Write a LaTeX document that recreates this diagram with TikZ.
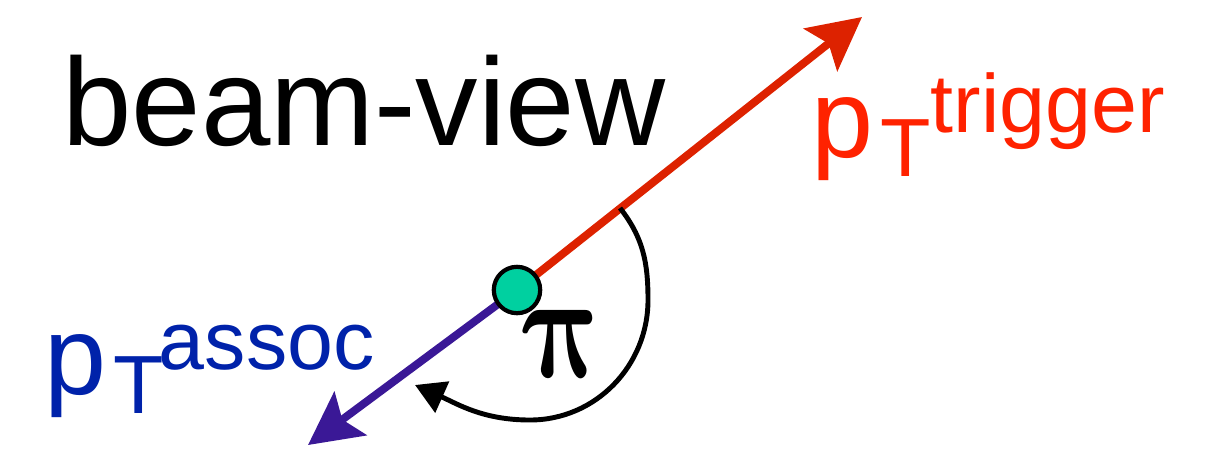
\documentclass[tikz,border=0pt]{standalone}
\usepackage{fontspec}
\setmainfont{Liberation Sans}
\usepackage{bm}
\usetikzlibrary{arrows.meta}
\definecolor{trigtext}{RGB}{255,34,0}
\definecolor{trigline}{RGB}{221,34,0}
\definecolor{assoctext}{RGB}{0,34,170}
\definecolor{assocline}{RGB}{58,24,150}
\definecolor{vertexfill}{RGB}{0,208,160}
\tikzset{
  lbl/.style={inner sep=0pt, anchor=base west},
  momarrow/.style={line width=4.5pt, -{Stealth[length=30pt,width=30.6pt,inset=5.7pt]}},
  anglearc/.style={line width=2.8pt, black, -{Triangle[length=17pt,width=19pt]}},
  vertex/.style={circle, draw=black, line width=2.4pt, fill=vertexfill, minimum size=26.4pt, inner sep=0pt}
}
\begin{document}
\begin{tikzpicture}[x=0.02cm,y=-0.02cm]
\useasboundingbox (0,0) rectangle (1219,451);
\coordinate (c0) at (517,290);
\coordinate (trigtip) at (862,17);
\coordinate (assoctip) at (308,445);
\draw[momarrow, trigline] (c0) -- (trigtip);
\draw[momarrow, assocline] (c0) -- (assoctip);
\node[vertex] (c) at (c0) {};
\coordinate (a1) at (620,208);
\coordinate (a2) at (648,300);
\coordinate (a3) at (530,420);
\coordinate (a4) at (415,385);
\draw[anglearc] (a1) to[out=-52,in=90] (a2) to[out=-90,in=0] (a3) to[out=180,in=-24] (a4);
\node[inner sep=0pt, xslant=-0.2, transform shape] (pi) at (563,344) {\scalebox{6.5}[8.6]{$\bm{\pi}$}};
\node[lbl] (title) at (62,145) {\fontsize{71}{74}\selectfont beam-view};
\node[lbl, text=trigtext] (trig) at (811,157) {\fontsize{63.5}{70}\selectfont p\hspace{4pt}\raisebox{-11.3pt}{\fontsize{47}{50}\selectfont T}\raisebox{14.2pt}{\fontsize{47}{50}\selectfont trigger}};
\node[lbl, text=assoctext] (assoc) at (44,394) {\fontsize{63.5}{70}\selectfont p\hspace{4pt}\raisebox{-11.3pt}{\fontsize{47}{50}\selectfont T}\hspace{-2.8pt}\raisebox{14.2pt}{\fontsize{47}{50}\selectfont assoc}};
\end{tikzpicture}
\end{document}
